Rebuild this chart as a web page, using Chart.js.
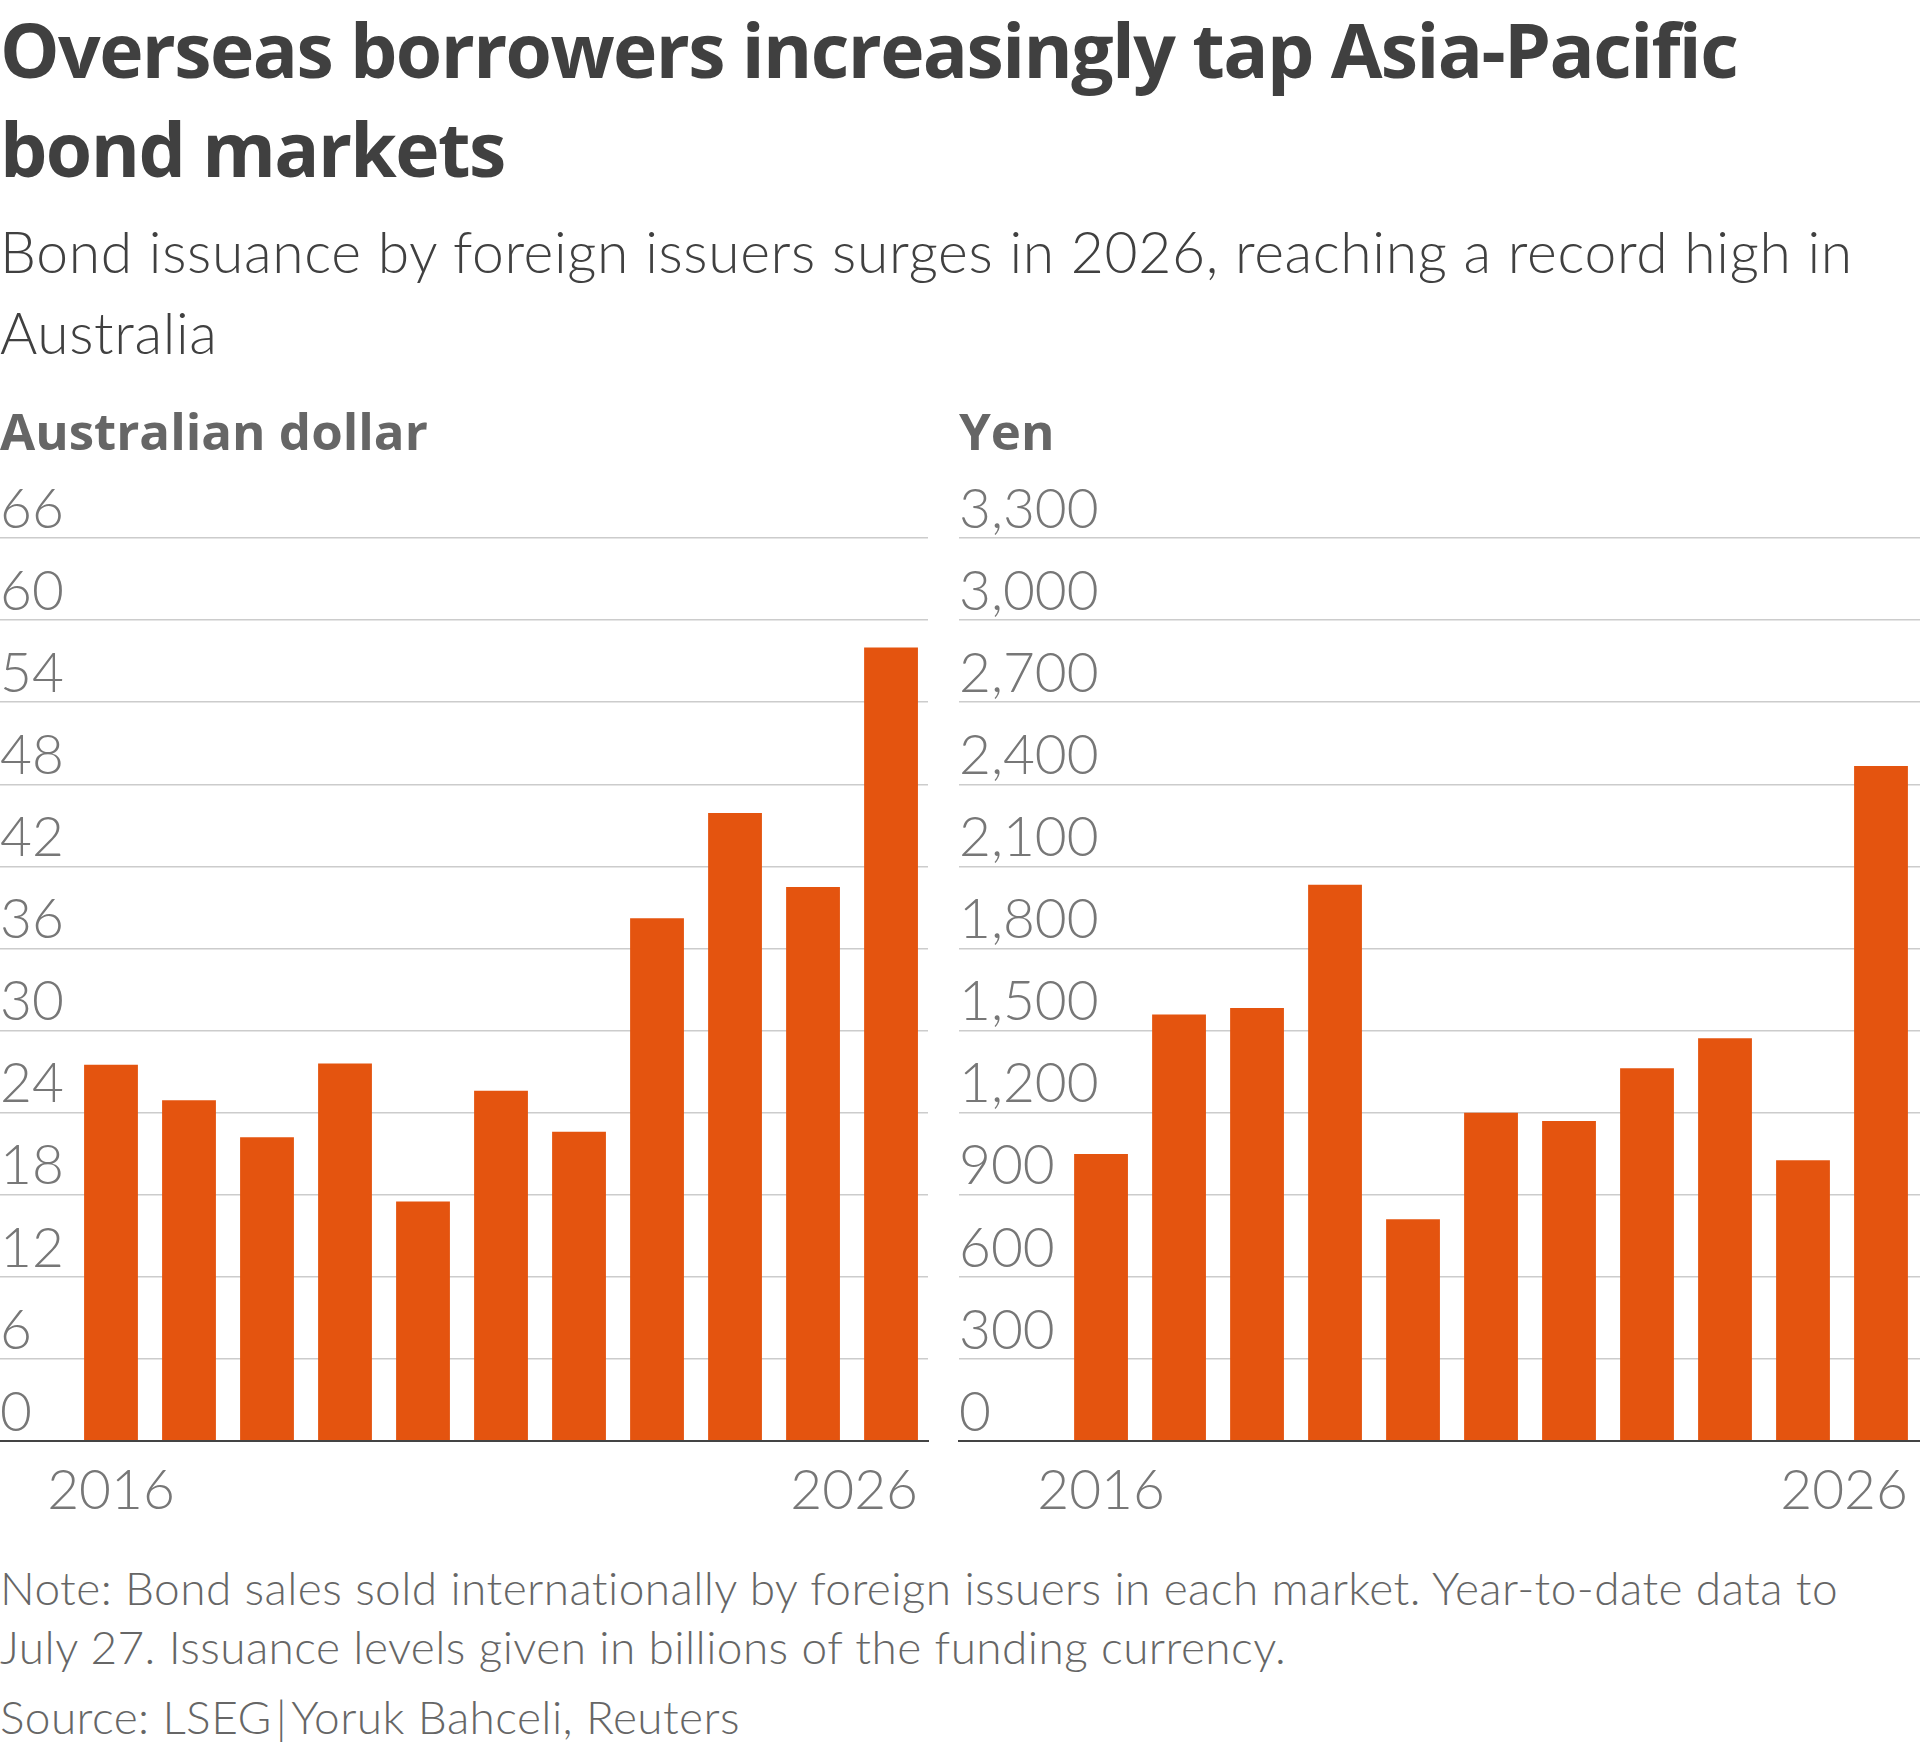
<!DOCTYPE html>
<html>
<head>
<meta charset="utf-8">
<script src="https://cdn.jsdelivr.net/npm/chart.js@4.4.1/dist/chart.umd.min.js"></script>
<style>
html,body{margin:0;padding:0;background:#fff;}
body{width:1920px;height:1747px;overflow:hidden;position:relative;}
.t{position:absolute;left:0;white-space:nowrap;margin:0;}
#title{top:0px;font:700 75px/99px 'Open Sans',sans-serif;letter-spacing:-1.6px;color:#404040;}
#sub{top:211px;font:300 57px/81px Lato,sans-serif;letter-spacing:0.65px;color:#404040;}
.panel{top:400px;font:700 51px/60px 'Open Sans',sans-serif;color:#666;}
#note{top:1558px;font:300 46px/59px Lato,sans-serif;letter-spacing:0.42px;color:#666;}
#source{top:1687px;font:300 46px/59px Lato,sans-serif;letter-spacing:0.42px;color:#666;}
canvas{position:absolute;}
</style>
</head>
<body>
<div id="title" class="t">Overseas borrowers increasingly tap Asia-Pacific<br>bond markets</div>
<div id="sub" class="t">Bond issuance by foreign issuers surges in 2026, reaching a record high in<br>Australia</div>
<div class="t panel" style="left:0">Australian dollar</div>
<div class="t panel" style="left:959px">Yen</div>
<canvas id="aud" width="940" height="1090" style="left:0;top:460px"></canvas>
<canvas id="yen" width="980" height="1090" style="left:940px;top:460px"></canvas>
<div id="note" class="t">Note: Bond sales sold internationally by foreign issuers in each market. Year-to-date data to<br>July 27. Issuance levels given in billions of the funding currency.</div>
<div id="source" class="t">Source: LSEG<span style="margin:0 4px">|</span>Yoruk Bahceli, Reuters</div>
<script>
// ---- data ----
const years = [2016, 2017, 2018, 2019, 2020, 2021, 2022, 2023, 2024, 2025, 2026];
const audValues = [27.5, 24.9, 22.2, 27.6, 17.5, 25.6, 22.6, 38.2, 45.9, 40.5, 58.0];
const yenValues = [1049, 1559, 1582, 2033, 810, 1200, 1169, 1362, 1472, 1026, 2467];
const xLabelYears = [2016, 2026];
const audTickMax = 66, audTickStep = 6;
const yenTickMax = 3300, yenTickStep = 300;

const BAR_COLOR = '#e4540f';
const TICK_COLOR = '#777777';
const TICK_FONT = {family: 'Lato', weight: '300', size: 55};

const xLabelPlugin = {
  id: 'xLabels',
  afterDraw(chart) {
    const meta = chart.getDatasetMeta(0);
    const ctx = chart.ctx;
    ctx.save();
    ctx.font = '300 55px Lato';
    ctx.fillStyle = TICK_COLOR;
    ctx.textBaseline = 'alphabetic';
    const y = chart.chartArea.bottom + 68;
    xLabelYears.forEach((yr, i) => {
      const bar = meta.data[years.indexOf(yr)];
      if (i === xLabelYears.length - 1) {
        ctx.textAlign = 'right';
        ctx.fillText(String(yr), bar.x + bar.width / 2, y);
      } else {
        ctx.textAlign = 'center';
        ctx.fillText(String(yr), bar.x, y);
      }
    });
    ctx.restore();
  }
};

function makeChart(id, values, yMax, yStep, xMin, xMax, padding) {
  return new Chart(document.getElementById(id), {
    type: 'bar',
    data: {
      datasets: [{
        data: years.map((y, i) => ({x: y, y: values[i]})),
        backgroundColor: BAR_COLOR,
        borderWidth: 0,
        categoryPercentage: 1,
        barPercentage: 0.69
      }]
    },
    options: {
      responsive: false,
      devicePixelRatio: 1,
      animation: false,
      layout: {padding: padding},
      plugins: {legend: {display: false}, tooltip: {enabled: false}},
      scales: {
        x: {
          type: 'linear',
          offset: false,
          min: xMin, max: xMax,
          z: 1,
          afterBuildTicks: s => { s.ticks = xLabelYears.map(v => ({value: v})); },
          grid: {display: false, drawTicks: false, offset: false},
          ticks: {display: false},
          border: {display: true, color: '#444', width: 2}
        },
        y: {
          min: 0, max: yMax,
          afterBuildTicks: s => {
            const t = [];
            for (let v = 0; v <= yMax; v += yStep) t.push({value: v});
            s.ticks = t;
          },
          afterFit: s => { s.paddingTop = 0; s.paddingBottom = 0; },
          border: {display: false},
          grid: {
            drawTicks: false,
            color: c => (c.tick && c.tick.value === 0) ? '#444' : '#cccccc',
            lineWidth: c => (c.tick && c.tick.value === 0) ? 2 : 1.5
          },
          ticks: {
            mirror: true,
            padding: 0,
            labelOffset: -28,
            color: TICK_COLOR,
            font: TICK_FONT,
            callback: v => Number(v).toLocaleString('en-US')
          }
        }
      }
    },
    plugins: [xLabelPlugin]
  });
}

function draw() {
  makeChart('aud', audValues, audTickMax, audTickStep, 2014.577, 2026.474,
    {left: 0, right: 12, top: 78, bottom: 109});
  makeChart('yen', yenValues, yenTickMax, yenTickStep, 2014.179, 2026.5,
    {left: 19, right: 0, top: 78, bottom: 109});
}
if (document.fonts && document.fonts.load) {
  Promise.all([
    document.fonts.load('300 55px Lato'),
    document.fonts.load('700 52px "Open Sans"')
  ]).then(draw, draw);
} else { draw(); }
</script>
</body>
</html>
